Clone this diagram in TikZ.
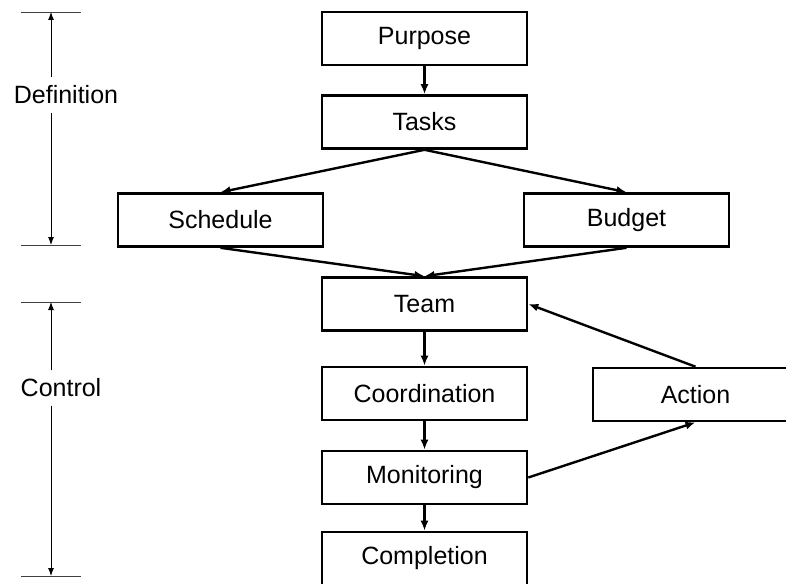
\documentclass[tikz,border=0pt]{standalone}
\usepackage{fontspec}
\setmainfont{Liberation Sans}
\usetikzlibrary{arrows.meta}

\begin{document}
\begin{tikzpicture}
[x=1pt,y=-1pt,
  boxDecorate/.style={shape=rectangle,draw,line width=2.6pt,minimum width=205pt,minimum height=53pt,inner sep=0pt},%
  arrowDecorate/.style={-{Latex[length=10pt,width=8pt]},line width=2.4pt},%
  bracketDecorate/.style={-{Latex[length=8pt,width=6pt]},line width=0.9pt},%
  tickDecorate/.style={line width=0.9pt,black!75},%
  sideLabel/.style={inner sep=0pt,minimum height=35pt}]
\fontsize{25}{30}\selectfont
\useasboundingbox (0,0) rectangle (786,583);
%% boxes
\foreach \nodename/\nodetext/\x/\y in {purpose/Purpose/424.5/38.5, tasks/Tasks/424.5/122,
  schedule/Schedule/220.5/220, budget/Budget/626.5/220, team/Team/424.5/304,
  coordination/Coordination/424.5/393.5, action/Action/695.5/394.5,
  monitoring/Monitoring/424.5/477.5, completion/Completion/424.5/558.5}
{
  \node (\nodename) at (\x,\y) [boxDecorate] {\nodetext};
}
%% flow arrows
\path
\foreach \startnode/\endnode in {purpose/tasks, tasks.south/schedule.north, tasks.south/budget.north,
  schedule.south/team.north, budget.south/team.north, team/coordination, coordination/monitoring,
  monitoring/completion, monitoring.east/action.south, action.north/team.east}
{
  (\startnode) edge[arrowDecorate] (\endnode)
};
%% phase brackets
\foreach \phase/\top/\bottom/\lx/\ly in {Definition/12/245/66/95, Control/302/576/61/388}
{
  \node (\phase label) at (\lx,\ly) [sideLabel] {\phase};
  \coordinate (\phase top) at (51,\top);
  \coordinate (\phase bottom) at (51,\bottom);
  \draw[tickDecorate] ([xshift=-30pt]\phase top) -- ([xshift=30pt]\phase top);
  \draw[tickDecorate] ([xshift=-30pt]\phase bottom) -- ([xshift=30pt]\phase bottom);
  \draw[bracketDecorate] (\phase top |- \phase label.north) -- (\phase top);
  \draw[bracketDecorate] (\phase top |- \phase label.south) -- (\phase bottom);
}
\end{tikzpicture}
\end{document}
